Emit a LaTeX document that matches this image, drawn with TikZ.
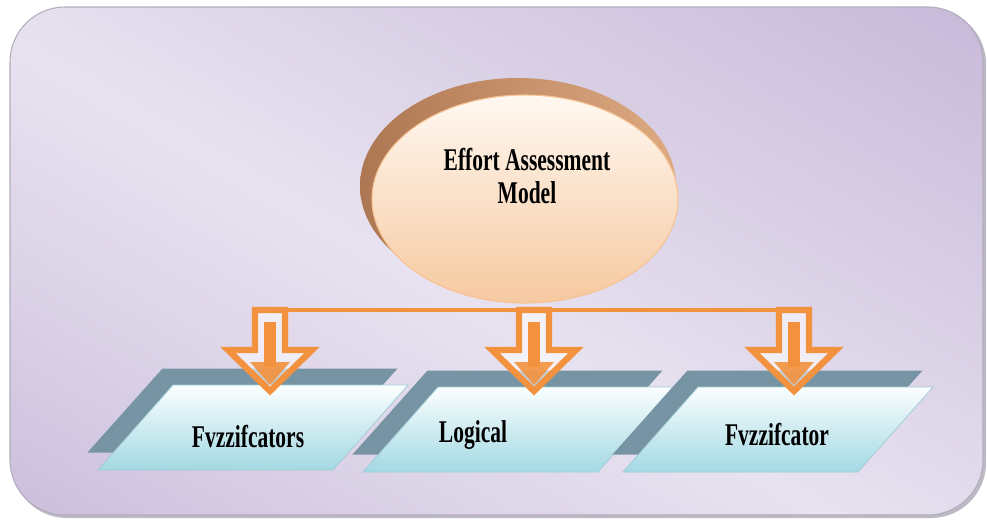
\documentclass[tikz,border=0pt]{standalone}
\usepackage{fontspec}
\newfontfamily\labelfont[FakeStretch=0.68]{Liberation Serif}
\usetikzlibrary{shadings}

\definecolor{bgLight}{HTML}{E8E2F0}
\definecolor{bgMid}{HTML}{DAD1E6}
\definecolor{bgDark}{HTML}{BBA9D0}
\definecolor{rimGray}{HTML}{8F8A9E}
\definecolor{peachTop}{HTML}{FFF8F1}
\definecolor{peachBot}{HTML}{F6C9A0}
\definecolor{brownDark}{HTML}{AE7753}
\definecolor{brownLight}{HTML}{DDAA82}
\definecolor{slate}{HTML}{7794A5}
\definecolor{iceTop}{HTML}{FBFEFF}
\definecolor{iceBot}{HTML}{A3D9E3}
\definecolor{flame}{HTML}{F2923F}

\pgfdeclarehorizontalshading{panelshade}{100bp}{%
  color(0bp)=(bgDark); color(30bp)=(bgMid); color(46bp)=(bgLight);
  color(62bp)=(bgMid); color(100bp)=(bgDark)}

\tikzset{
  labeltext/.style={font=\labelfont\bfseries\fontsize{18}{19}\selectfont,
    text=black, align=center, inner sep=0pt},
  % two stacked parallelograms: slate plate behind, icy plate in front
  slab/.pic={
    \fill[slate] (-90,-59) -- (145,-59) -- (70,25) -- (-165,25) -- cycle;
    \shade[top color=iceTop, bottom color=iceBot, draw=iceBot!85!gray, line width=0.4pt]
      (-79.5,-42.5) -- (155.5,-42.5) -- (80.5,42.5) -- (-154.5,42.5) -- cycle;
  },
  % hollow orange block arrow with a solid core
  downarrow/.pic={
    \fill[white, opacity=0.55]
      (-15,3) -- (15,3) -- (15,43) -- (42,43) -- (0,84) -- (-42,43) -- (-15,43) -- cycle;
    \draw[flame, line width=3.6pt, line join=miter, miter limit=4]
      (-15,3) -- (15,3) -- (15,43) -- (42,43) -- (0,84) -- (-42,43) -- (-15,43) -- cycle;
    \fill[flame] (-6,15) rectangle (6,60);
    \fill[flame, opacity=0.9] (-20,55) -- (20,55) -- (0,78) -- cycle;
  }
}

\begin{document}
\begin{tikzpicture}[x=0.02cm, y=-0.02cm]
  \useasboundingbox (0,0) rectangle (987,521);

  % panel with a thin shadow on its lower right
  \fill[rimGray!60, rounded corners=1.1cm] (12,9) rectangle (986,518);
  \shade[shading=panelshade, shading angle=60, draw=rimGray!70, line width=0.6pt,
         rounded corners=1.1cm] (10,7) rectangle (983,515);

  % model ellipse: brown back disc and peach front disc
  \shade[left color=brownDark, right color=brownLight] (518,186) ellipse [x radius=158, y radius=108];
  \shade[top color=peachTop, bottom color=peachBot, draw=peachBot!90!orange, line width=0.6pt]
    (525,199) ellipse [x radius=153, y radius=104];
  \node[labeltext] (model) at (527,176) {Effort Assessment\\Model};

  % the three plates
  \pic at (252.5,427.5) {slab};
  \pic at (517.5,429.5) {slab};
  \pic at (777.5,429.5) {slab};

  \node[labeltext] (fuzz1) at (248,437) {Fvzzifcators};
  \node[labeltext] (logic) at (473,435) {Logical};
  \node[labeltext] (fuzz2) at (777,435) {Fvzzifcator};

  % arrow heads of the distribution bar
  \coordinate (a1) at (270,307);
  \coordinate (a2) at (534,307);
  \coordinate (a3) at (794,307);
  \draw[flame, line width=1.8pt] ([yshift=-0.06cm]a1) -- ([yshift=-0.06cm]a3);
  \pic at (a1) {downarrow};
  \pic at (a2) {downarrow};
  \pic at (a3) {downarrow};
\end{tikzpicture}
\end{document}
